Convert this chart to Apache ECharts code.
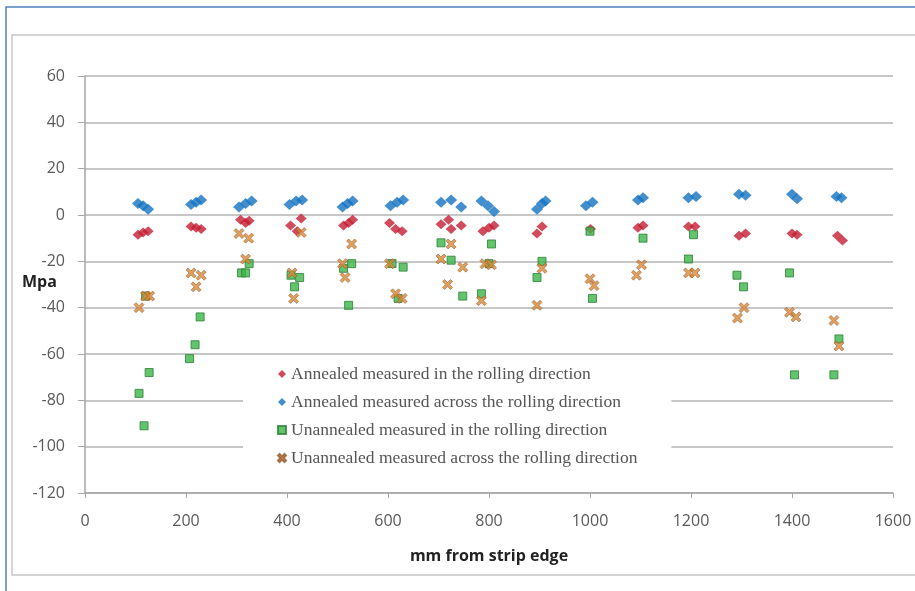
<!DOCTYPE html>
<html><head><meta charset="utf-8">
<script src="https://cdn.jsdelivr.net/npm/echarts@6/dist/echarts.min.js"></script>
<style>html,body{margin:0;padding:0;background:#fff}#c{width:915px;height:591px}</style>
</head><body><div id="c"></div>
<script>
var seriesNames = [
  'Annealed measured in the rolling direction',
  'Annealed measured across the rolling direction',
  'Unannealed measured in the rolling direction',
  'Unannealed measured across the rolling direction'
];
var xTicks = [0,200,400,600,800,1000,1200,1400,1600];
var yTicks = [-120,-100,-80,-60,-40,-20,0,20,40,60];

var annInX = [105,115,125,210,220,230,308,318,325,407,420,428,512,522,530,603,615,628,705,720,725,745,788,800,810,895,905,1001,1095,1105,1195,1208,1295,1308,1400,1410,1490,1500];
var annInY = [-8.5,-7.5,-7,-5,-5.5,-6,-2,-3.5,-2.5,-4.5,-7,-1.5,-4.5,-3.5,-2,-3.5,-6,-7,-4,-2,-6,-4.5,-7,-5.5,-4.5,-8,-5,-6,-5.5,-4.5,-5,-5,-9,-8,-8,-8.5,-9,-11];

var annAcX = [105,115,125,210,220,230,305,318,330,405,418,430,510,520,530,605,618,630,705,725,745,785,798,810,895,905,912,992,1005,1095,1105,1195,1210,1295,1308,1400,1410,1488,1498];
var annAcY = [5,4,2.5,4.5,5.5,6.5,3.5,5,6,4.5,6,6.5,3.5,5,6,4,5.5,6.5,5.5,6.5,3.5,6,4,1.5,2.5,5,6,4,5.5,6.5,7.5,7.5,8,9,8.5,9,7,8,7.5];

var unInX = [107,117,127,120,207,218,228,310,318,325,408,415,425,512,522,528,608,620,630,705,725,748,785,800,805,895,905,1000,1005,1105,1195,1205,1291,1304,1395,1405,1483,1493];
var unInY = [-77,-91,-68,-35,-62,-56,-44,-25,-25,-21,-26,-31,-27,-23,-39,-21,-21,-36,-22.5,-12,-19.5,-35,-34,-21,-12.5,-27,-20,-7,-36,-10,-19,-8.5,-26,-31,-25,-69,-69,-53.5];

var unAcX = [107,120,128,210,220,230,305,324,318,410,413,428,510,515,528,603,615,628,705,718,725,748,785,792,805,895,905,1000,1008,1092,1102,1195,1208,1292,1305,1395,1408,1483,1493];
var unAcY = [-40,-35,-35,-25,-31,-26,-8,-10,-19,-25,-36,-7.5,-21,-27,-12.5,-21,-34,-36,-19,-30,-12.5,-22.5,-37,-21,-21.5,-39,-23,-27.5,-30.5,-26,-21.5,-25,-25,-44.5,-40,-42,-44,-45.5,-56.5];

function zip(xs, ys){ return xs.map(function(x,i){ return [x, ys[i]]; }); }

var xPath = 'path://M2,0 L5,3 L8,0 L10,2 L7,5 L10,8 L8,10 L5,7 L2,10 L0,8 L3,5 L0,2 Z';

var chart = echarts.init(document.getElementById('c'));
chart.setOption({
  animation: false,
  backgroundColor: '#fff',
  graphic: [
    {type:'rect', shape:{x:6,y:7,width:1000,height:1000}, style:{fill:'none', stroke:'#4F81BD', lineWidth:1.5}, z:100},
    {type:'rect', shape:{x:12,y:35,width:1000,height:540}, style:{fill:'none', stroke:'#C8C8C8', lineWidth:1.5}, z:100},
    {type:'text', left:22, top:274, style:{text:'Mpa', font:'bold 16px "Open Sans", sans-serif', fill:'#222'}}
  ],
  grid: {left:85, right:22, top:76, bottom:98},
  legend: {
    orient:'vertical', left:243, top:358,
    padding:[6,34,8,34],
    backgroundColor:'#fff',
    itemWidth:8, itemHeight:8, itemGap:8,
    textStyle:{fontFamily:'"Liberation Serif", serif', fontSize:17.5, color:'#555', lineHeight:20},
    data: seriesNames, z: 10
  },
  xAxis: {
    type:'value', min:0, max:1600, interval:200,
    name:'mm from strip edge', nameLocation:'middle', nameGap:55,
    nameTextStyle:{fontFamily:'"Open Sans", sans-serif', fontWeight:'bold', fontSize:16, color:'#222'},
    axisLine:{show:true, onZero:false, lineStyle:{color:'#A6A6A6', width:1.5}},
    axisTick:{show:true, length:5, lineStyle:{color:'#A6A6A6'}},
    axisLabel:{margin:20, fontFamily:'"Open Sans", sans-serif', fontSize:16, color:'#595959',
      formatter:function(v){ return String(v); }},
    splitLine:{show:false}
  },
  yAxis: {
    type:'value', min:-120, max:60, interval:20,
    axisLine:{show:true, lineStyle:{color:'#A6A6A6', width:1.5}},
    axisTick:{show:true, length:7, lineStyle:{color:'#A6A6A6'}},
    axisLabel:{margin:20, fontFamily:'"Open Sans", sans-serif', fontSize:16, color:'#595959'},
    splitLine:{show:true, lineStyle:{color:'#B4B4B4', width:1.5}}
  },
  series: [
    {name:seriesNames[0], type:'scatter', symbol:'diamond', symbolSize:[11,10],
     itemStyle:{color:'#C41E32'}, data:zip(annInX, annInY)},
    {name:seriesNames[1], type:'scatter', symbol:'diamond', symbolSize:[12,11],
     itemStyle:{color:'#1473C2'}, data:zip(annAcX, annAcY)},
    {name:seriesNames[2], type:'scatter', symbol:'rect', symbolSize:8,
     itemStyle:{color:'#3CB54A', borderColor:'#2A7F33', borderWidth:1}, data:zip(unInX, unInY)},
    {name:seriesNames[3], type:'scatter', symbol:xPath, symbolSize:10,
     itemStyle:{color:'#D98836', borderColor:'#8E5A2E', borderWidth:0.7}, data:zip(unAcX, unAcY)}
  ]
});
</script>
</body></html>
